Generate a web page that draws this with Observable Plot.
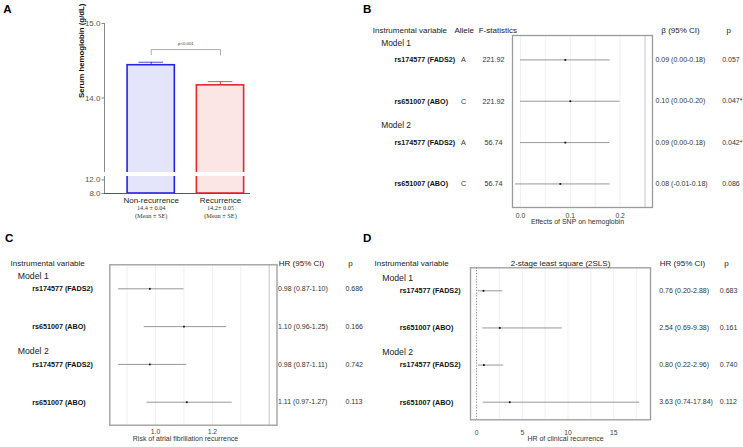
<!DOCTYPE html>
<html><head><meta charset="utf-8">
<script src="https://cdn.jsdelivr.net/npm/d3@7"></script>
<script src="https://cdn.jsdelivr.net/npm/@observablehq/plot@0.6"></script>
<style>
body{margin:0;background:#fff;}
#root{position:relative;width:743px;height:447px;overflow:hidden;font-family:"Liberation Sans",Arial,sans-serif;background:#fff;}
.letter{position:absolute;font-weight:bold;font-size:11.6px;line-height:11.6px;color:#000;}
</style></head><body><div id="root"></div>
<script>
// ---------- Panel A data ----------
const groupsA = ["Non-recurrence", "Recurrence"];
const meanA = [14.44, 14.17];
const seA = [0.04, 0.05];
const summaryA = ["14.4 ± 0.04", "14.2± 0.05"];
const noteA = ["(Mean ± SE)", "(Mean ± SE)"];
const pLabelA = "p<0.001";
const ticksUpperA = [14, 15];
const ticksLowerA = [8, 12];

// ---------- Panel B data ----------
const snpB = ["rs174577 (FADS2)", "rs651007 (ABO)", "rs174577 (FADS2)", "rs651007 (ABO)"];
const modelB = ["Model 1", "Model 1", "Model 2", "Model 2"];
const alleleB = ["A", "C", "A", "C"];
const fstatB = ["221.92", "221.92", "56.74", "56.74"];
const betaB = [0.09, 0.10, 0.09, 0.08];
const loB = [0.00, 0.00, 0.00, -0.01];
const hiB = [0.18, 0.20, 0.18, 0.18];
const pB = ["0.057", "0.047*", "0.042*", "0.086"];
const ticksB = [0, 0.1, 0.2];
const gridB = [0, 0.05, 0.1, 0.15, 0.2];

// ---------- Panel C data ----------
const snpC = ["rs174577 (FADS2)", "rs651007 (ABO)", "rs174577 (FADS2)", "rs651007 (ABO)"];
const modelC = ["Model 1", "Model 1", "Model 2", "Model 2"];
const hrC = [0.98, 1.10, 0.98, 1.11];
const loC = [0.87, 0.96, 0.87, 0.97];
const hiC = [1.10, 1.25, 1.11, 1.27];
const pC = ["0.686", "0.166", "0.742", "0.113"];
const ticksC = [1.0, 1.2];
const gridC = [0.9, 1.0, 1.1, 1.2, 1.3];

// ---------- Panel D data ----------
const snpD = ["rs174577 (FADS2)", "rs651007 (ABO)", "rs174577 (FADS2)", "rs651007 (ABO)"];
const modelD = ["Model 1", "Model 1", "Model 2", "Model 2"];
const hrD = [0.76, 2.54, 0.80, 3.63];
const loD = [0.20, 0.69, 0.22, 0.74];
const hiD = [2.88, 9.38, 2.96, 17.84];
const pD = ["0.683", "0.161", "0.740", "0.112"];
const ticksD = [0, 5, 10, 15];
const gridD = [2.5, 5, 7.5, 10, 12.5, 15, 17.5];

// ---------- helpers ----------
const root = document.getElementById("root");
const baseStyle = {background: "transparent", fontFamily: '"Liberation Sans", Arial, sans-serif', overflow: "visible"};
function place(el, left, top) {
  el.style.position = "absolute";
  el.style.left = left + "px";
  el.style.top = top + "px";
  root.appendChild(el);
}
function letter(t, left, top) {
  const d = document.createElement("div");
  d.className = "letter"; d.textContent = t;
  d.style.left = left + "px"; d.style.top = top + "px";
  root.appendChild(d);
}

// ---------- Panel A ----------
const idxA = groupsA.map((_, i) => i);
const xDomA = [-0.674, 1.433];
const halfBar = 0.341, halfCap = 0.178;
const colorA = {domain: groupsA, range: ["#2424dc", "#e22a2a"]};
const bracketTop = d3.max(idxA, i => meanA[i] + seA[i]) + 0.17;
const bracket = [
  {x: idxA[0], y: bracketTop - 0.07}, {x: idxA[0], y: bracketTop},
  {x: idxA[1], y: bracketTop}, {x: idxA[1], y: bracketTop - 0.07}
];
const barsA = () => Plot.rect(idxA, {
  x1: i => i - halfBar, x2: i => i + halfBar, y1: () => 8, y2: i => meanA[i],
  fill: i => groupsA[i], fillOpacity: 0.12, stroke: i => groupsA[i], strokeWidth: 1.6, clip: true
});
const upperA = Plot.plot({
  width: 255, height: 172, marginLeft: 104, marginRight: 5, marginTop: 23, marginBottom: 0,
  x: {domain: xDomA, axis: null}, y: {domain: [13.0, 15.0]}, color: colorA, style: baseStyle,
  marks: [
    barsA(),
    Plot.ruleX(idxA, {x: i => i, y1: i => meanA[i], y2: i => meanA[i] + seA[i], stroke: i => groupsA[i], strokeWidth: 1, strokeOpacity: 0.8}),
    Plot.ruleY(idxA, {y: i => meanA[i] + seA[i], x1: i => i - halfCap, x2: i => i + halfCap, stroke: i => groupsA[i], strokeWidth: 1, strokeOpacity: 0.8}),
    Plot.line(bracket, {x: "x", y: "y", stroke: "#888", strokeWidth: 0.7}),
    Plot.text([pLabelA], {x: () => (idxA[0] + idxA[1]) / 2, y: () => bracketTop + 0.075, fontSize: 4.3, fill: "#333"}),
    Plot.ruleX([xDomA[0]], {y1: () => 13.0, y2: () => 15.0, stroke: "#8a8a8a", strokeWidth: 1}),
    Plot.axisY({ticks: ticksUpperA, tickFormat: d3.format(".1f"), tickSize: 2.5, tickPadding: 1.5, fontSize: 8, color: "#555", stroke: "#888", label: null}),
    Plot.text(["Serum hemoglobin (g/dL)"], {frameAnchor: "left", dx: -23, rotate: -90, fontSize: 7.8, fontWeight: "bold", fill: "#111"})
  ]
});
place(upperA, 0, 0);

const lowerA = Plot.plot({
  width: 255, height: 47.5, marginLeft: 104, marginRight: 5, marginTop: 1, marginBottom: 29.5,
  x: {domain: xDomA}, y: {domain: [8, 13]}, color: colorA, style: baseStyle,
  marks: [
    barsA(),
    Plot.ruleX([xDomA[0]], {y1: () => 8, y2: () => 13, stroke: "#8a8a8a", strokeWidth: 1}),
    Plot.ruleY([8], {stroke: "#555", strokeWidth: 1}),
    Plot.axisY({ticks: ticksLowerA, tickFormat: d3.format(".1f"), tickSize: 2.5, tickPadding: 1.5, fontSize: 8, color: "#555", stroke: "#888", label: null}),
    Plot.axisX({ticks: idxA, tickFormat: i => groupsA[i], tickSize: 0, tickPadding: 4, fontSize: 8, color: "#222", label: null}),
    Plot.text(idxA, {x: i => i, text: i => summaryA[i], frameAnchor: "bottom", dy: 16.5, fontSize: 6.3, fontFamily: '"Liberation Serif", serif', fill: "#333"}),
    Plot.text(idxA, {x: i => i, text: i => noteA[i], frameAnchor: "bottom", dy: 24.2, fontSize: 6.3, fontFamily: '"Liberation Serif", serif', fill: "#333"})
  ]
});
place(lowerA, 0, 174.5);

// ---------- forest panels ----------
function forest(c) {
  const [fl, fr, ft, fb] = c.frame;
  const rows = c.snp.map((s, i) => ({
    row: i + 1, snp: s, model: c.model[i], est: c.est[i], lo: c.lo[i], hi: c.hi[i], p: c.p[i],
    extra: (c.extra || []).map(e => e.values[i])
  }));
  const firsts = rows.filter((d, i) => i === 0 || d.model !== rows[i - 1].model);
  const ci = d => `${d.est.toFixed(2)} (${d.lo.toFixed(2)}-${d.hi.toFixed(2)})`;
  const marks = [Plot.ruleX(c.grid, {stroke: "#ececec", strokeWidth: 0.8})];
  if (c.darkGrid != null) marks.push(Plot.ruleX([c.darkGrid], {stroke: "#c6c6c6", strokeWidth: 1}));
  if (c.ref != null) marks.push(Plot.ruleX([c.ref], {stroke: "#666", strokeWidth: 0.8, strokeDasharray: "1.2,1.6"}));
  marks.push(
    Plot.frame({stroke: "#9b9b9b", strokeWidth: 1.3}),
    Plot.ruleY(rows, {y: "row", x1: "lo", x2: "hi", stroke: "#8c8c8c", strokeWidth: 0.9}),
    Plot.dot(rows, {x: "est", y: "row", symbol: "square", r: 1.0, fill: "#111", stroke: null}),
    Plot.axisX({ticks: c.ticks, tickFormat: d3.format(c.tickFormat), tickSize: 0, tickPadding: c.tickPadding, fontSize: 6.8, color: "#444", label: null}),
    Plot.text([c.axisLabel], {frameAnchor: "bottom", dx: c.axisLabelPos[0] - (fl + fr) / 2, dy: c.axisLabelPos[1] - fb, fontSize: 7, fill: "#333"})
  );
  for (const h of c.headers) {
    marks.push(Plot.text([h.text], {frameAnchor: "top-left", dx: h.x - fl, dy: h.y - ft, textAnchor: h.anchor || "start", fontSize: h.size || 8, fill: "#222"}));
  }
  marks.push(Plot.text(firsts, {y: "row", text: "model", frameAnchor: "left", dx: c.modelX - fl, dy: c.modelDy, textAnchor: "start", fontSize: c.modelSize, fill: "#222"}));
  marks.push(Plot.text(rows, {y: "row", text: "snp", frameAnchor: "left", dx: c.snpX - fl, textAnchor: "start", fontSize: 7.2, fontWeight: "bold", fill: "#111"}));
  (c.extra || []).forEach((e, k) => marks.push(Plot.text(rows, {y: "row", text: d => d.extra[k], frameAnchor: "left", dx: e.x - fl, textAnchor: "middle", fontSize: 7.2, fill: "#333"})));
  marks.push(Plot.text(rows, {y: "row", text: ci, frameAnchor: "left", dx: c.ciX - fl, textAnchor: "start", fontSize: 7, fill: "#333"}));
  marks.push(Plot.text(rows, {y: "row", text: "p", frameAnchor: "left", dx: c.pX - fl, textAnchor: "start", fontSize: 7, fill: "#333"}));
  const svg = Plot.plot({
    width: c.width, height: c.height,
    marginLeft: fl - c.left, marginRight: c.left + c.width - fr, marginTop: ft - c.top, marginBottom: c.top + c.height - fb,
    x: {domain: c.xDomain}, y: {domain: c.yDomain, reverse: true, axis: null},
    style: baseStyle, marks
  });
  place(svg, c.left, c.top);
}

forest({
  left: 360, top: 0, width: 383, height: 230, frame: [512, 652, 35, 207],
  xDomain: [-0.016, 0.265], yDomain: [0.41, 4.57],
  snp: snpB, model: modelB, est: betaB, lo: loB, hi: hiB, p: pB,
  extra: [{values: alleleB, x: 463}, {values: fstatB, x: 493}],
  ticks: ticksB, tickFormat: ".1f", tickPadding: 5.6, grid: gridB, darkGrid: 0.25,
  axisLabel: "Effects of SNP on hemoglobin", axisLabelPos: [577, 223.3],
  headers: [
    {text: "Instrumental variable", x: 372.3, y: 26.7},
    {text: "Allele", x: 463.7, y: 26.7, anchor: "middle"},
    {text: "F-statistics", x: 497.3, y: 26.7, anchor: "middle"},
    {text: "β (95% CI)", x: 680, y: 26.7, anchor: "middle"},
    {text: "p", x: 728.3, y: 26.7, anchor: "middle"}
  ],
  modelX: 380.7, modelDy: -17, modelSize: 8.4, snpX: 394, ciX: 655, pX: 721.7
});

forest({
  left: 0, top: 220, width: 370, height: 227, frame: [109.3, 276.5, 264.3, 424.7],
  xDomain: [0.839, 1.4275], yDomain: [0.365, 4.608],
  snp: snpC, model: modelC, est: hrC, lo: loC, hi: hiC, p: pC,
  ticks: ticksC, tickFormat: ".1f", tickPadding: 3.9, grid: gridC, darkGrid: 1.4,
  axisLabel: "Risk of atrial fibrillation recurrence", axisLabelPos: [185, 440.3],
  headers: [
    {text: "Instrumental variable", x: 10, y: 260.3},
    {text: "HR (95% CI)", x: 278.3, y: 260.3},
    {text: "p", x: 350, y: 260.3, anchor: "middle"}
  ],
  modelX: 17.3, modelDy: -13, modelSize: 8.7, snpX: 31.7, ciX: 277.5, pX: 345
});

forest({
  left: 370, top: 220, width: 373, height: 227, frame: [470, 650, 267.3, 419.3],
  xDomain: [-0.66, 19.02], yDomain: [0.38, 4.474],
  snp: snpD, model: modelD, est: hrD, lo: loD, hi: hiD, p: pD,
  ticks: ticksD, tickFormat: "d", tickPadding: 10, grid: gridD, ref: 0,
  axisLabel: "HR of clinical recurrence", axisLabelPos: [565, 440],
  headers: [
    {text: "Instrumental variable", x: 374, y: 260.3},
    {text: "2-stage least square (2SLS)", x: 560, y: 260.3, anchor: "middle"},
    {text: "HR (95% CI)", x: 659.3, y: 260.3},
    {text: "p", x: 726, y: 260.3, anchor: "middle"}
  ],
  modelX: 381.7, modelDy: -12.7, modelSize: 8.7, snpX: 399.3, ciX: 658.7, pX: 719.3
});

letter("A", 3.3, 2.5);
letter("B", 363, 2.5);
letter("C", 5, 232);
letter("D", 363, 232);
</script></body></html>
